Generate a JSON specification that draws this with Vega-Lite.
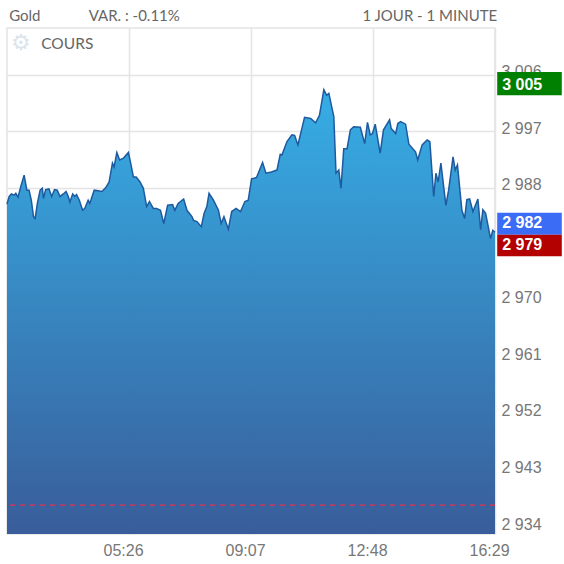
{
"$schema":"https://vega.github.io/schema/vega-lite/v6.json",
"width":488,"height":506,"autosize":"none",
"padding":{"left":7,"top":28,"right":69,"bottom":30},
"background":"white",
"view":{"stroke":"#e4e4e4","strokeWidth":1.5},
"datasets":{
"series":[
{"t":"01:45","v":2985.4},{"t":"01:49","v":2986.6},{"t":"01:53","v":2987.0},{"t":"01:58","v":2986.8},{"t":"02:01","v":2987.1},{"t":"02:05","v":2986.5},{"t":"02:10","v":2988.2},{"t":"02:16","v":2990.0},{"t":"02:21","v":2987.6},{"t":"02:25","v":2987.6},{"t":"02:29","v":2986.0},{"t":"02:33","v":2983.4},{"t":"02:36","v":2983.1},{"t":"02:40","v":2985.5},{"t":"02:45","v":2987.6},{"t":"02:49","v":2987.9},{"t":"02:51","v":2986.3},{"t":"02:55","v":2987.7},{"t":"03:01","v":2987.8},{"t":"03:06","v":2986.6},{"t":"03:11","v":2987.7},{"t":"03:16","v":2987.6},{"t":"03:21","v":2986.6},{"t":"03:27","v":2987.0},{"t":"03:32","v":2987.4},{"t":"03:36","v":2986.6},{"t":"03:39","v":2985.7},{"t":"03:44","v":2987.0},{"t":"03:48","v":2986.6},{"t":"03:51","v":2986.9},{"t":"03:56","v":2986.0},{"t":"04:02","v":2984.4},{"t":"04:06","v":2984.7},{"t":"04:12","v":2986.0},{"t":"04:15","v":2985.5},{"t":"04:23","v":2987.6},{"t":"04:30","v":2987.5},{"t":"04:37","v":2987.4},{"t":"04:44","v":2988.0},{"t":"04:50","v":2988.9},{"t":"04:56","v":2991.9},{"t":"04:59","v":2991.3},{"t":"05:04","v":2993.6},{"t":"05:09","v":2992.4},{"t":"05:16","v":2992.7},{"t":"05:25","v":2993.6},{"t":"05:29","v":2991.9},{"t":"05:34","v":2989.7},{"t":"05:39","v":2989.7},{"t":"05:46","v":2988.9},{"t":"05:52","v":2987.9},{"t":"05:58","v":2985.0},{"t":"06:03","v":2985.8},{"t":"06:10","v":2984.7},{"t":"06:16","v":2984.7},{"t":"06:23","v":2984.4},{"t":"06:29","v":2982.3},{"t":"06:36","v":2985.2},{"t":"06:45","v":2985.3},{"t":"06:49","v":2984.4},{"t":"06:55","v":2985.5},{"t":"07:05","v":2986.2},{"t":"07:11","v":2984.4},{"t":"07:20","v":2983.4},{"t":"07:23","v":2982.8},{"t":"07:29","v":2982.6},{"t":"07:37","v":2981.8},{"t":"07:42","v":2983.9},{"t":"07:47","v":2985.0},{"t":"07:51","v":2987.1},{"t":"07:59","v":2986.0},{"t":"08:08","v":2984.4},{"t":"08:13","v":2982.3},{"t":"08:18","v":2983.4},{"t":"08:26","v":2981.4},{"t":"08:32","v":2984.2},{"t":"08:40","v":2984.7},{"t":"08:48","v":2984.2},{"t":"08:56","v":2985.8},{"t":"09:02","v":2986.0},{"t":"09:08","v":2989.4},{"t":"09:17","v":2989.6},{"t":"09:28","v":2992.0},{"t":"09:34","v":2990.3},{"t":"09:44","v":2990.5},{"t":"09:54","v":2990.8},{"t":"10:00","v":2993.3},{"t":"10:03","v":2993.2},{"t":"10:12","v":2995.3},{"t":"10:21","v":2996.4},{"t":"10:26","v":2996.3},{"t":"10:32","v":2994.8},{"t":"10:44","v":2999.2},{"t":"10:55","v":2999.0},{"t":"11:04","v":2998.3},{"t":"11:11","v":2999.5},{"t":"11:19","v":3003.6},{"t":"11:24","v":3002.7},{"t":"11:28","v":3003.0},{"t":"11:37","v":2999.3},{"t":"11:41","v":2990.3},{"t":"11:46","v":2990.8},{"t":"11:50","v":2987.9},{"t":"11:55","v":2994.2},{"t":"12:01","v":2994.2},{"t":"12:07","v":2997.2},{"t":"12:13","v":2997.7},{"t":"12:25","v":2997.6},{"t":"12:33","v":2995.0},{"t":"12:38","v":2998.4},{"t":"12:43","v":2996.4},{"t":"12:47","v":2996.6},{"t":"12:52","v":2998.1},{"t":"13:01","v":2993.5},{"t":"13:07","v":2997.2},{"t":"13:18","v":2998.8},{"t":"13:21","v":2997.4},{"t":"13:29","v":2996.6},{"t":"13:33","v":2998.2},{"t":"13:38","v":2998.5},{"t":"13:47","v":2998.1},{"t":"13:53","v":2994.9},{"t":"14:05","v":2993.7},{"t":"14:09","v":2992.4},{"t":"14:17","v":2994.8},{"t":"14:26","v":2995.6},{"t":"14:31","v":2995.3},{"t":"14:38","v":2986.6},{"t":"14:42","v":2990.3},{"t":"14:46","v":2988.9},{"t":"14:51","v":2991.9},{"t":"15:00","v":2985.2},{"t":"15:05","v":2987.6},{"t":"15:13","v":2992.9},{"t":"15:17","v":2990.8},{"t":"15:21","v":2991.6},{"t":"15:29","v":2984.4},{"t":"15:34","v":2983.1},{"t":"15:38","v":2986.1},{"t":"15:43","v":2986.2},{"t":"15:49","v":2984.2},{"t":"15:58","v":2986.2},{"t":"16:03","v":2981.3},{"t":"16:07","v":2984.5},{"t":"16:12","v":2983.9},{"t":"16:21","v":2979.9},{"t":"16:25","v":2981.2},{"t":"16:29","v":2980.9}
],
"badges":[
{"label":"3 005","t0":"16:33","t1":"18:30","tl":"16:42","lo":3002.7,"hi":3006.4,"c":"#008000","mid":3004.4},
{"label":"2 982","t0":"16:33","t1":"18:30","tl":"16:42","lo":2980.5,"hi":2984.0,"c":"#3a6cf6","mid":2982.3},
{"label":"2 979","t0":"16:33","t1":"18:30","tl":"16:42","lo":2977.1,"hi":2980.5,"c":"#b30000","mid":2978.9}
],
"header":[
{"t":"01:49","v":3015.3,"text":"Gold","size":15},
{"t":"04:13","v":3015.3,"text":"VAR. : -0.11%","size":15},
{"t":"02:47","v":3010.8,"text":"COURS","size":15.5}
],
"headerRight":[{"t":"16:33","v":3015.3,"text":"1 JOUR - 1 MINUTE"}],
"gear":[{"t":"02:10","v":3011.0,"text":"⚙"}],
"support":[{"v":2937.5}]
},
"config":{"font":"Liberation Sans"},
"layer":[
{"data":{"name":"series","format":{"parse":{"t":"date:'%H:%M'"}}},
 "encoding":{
  "x":{"field":"t","type":"temporal","title":null,
   "scale":{"domain":[{"year":1900,"month":1,"date":1,"hours":1,"minutes":45},{"year":1900,"month":1,"date":1,"hours":16,"minutes":29}]},
   "axis":{"values":[{"year":1900,"month":1,"date":1,"hours":5,"minutes":26},{"year":1900,"month":1,"date":1,"hours":9,"minutes":7},{"year":1900,"month":1,"date":1,"hours":12,"minutes":48},{"year":1900,"month":1,"date":1,"hours":16,"minutes":29}],
    "format":"%H:%M","grid":true,"gridColor":"#e4e4e4","gridWidth":1.5,"ticks":false,"domain":false,"labelColor":"#777777","labelFontSize":16,"labelPadding":8,"labelOffset":-6,"labelOverlap":false,"labelBound":false,"labelFlush":false}},
  "y":{"field":"v","type":"quantitative","title":null,"scale":{"domain":[2932.9,3013.4],"zero":false,"nice":false},
   "axis":{"orient":"right","values":[2934,2943,2952,2961,2970,2979,2988,2997,3006],"labelExpr":"replace(format(datum.value,','),',',' ')","grid":true,"gridColor":"#e4e4e4","gridWidth":1.5,"ticks":false,"domain":false,"labelColor":"#777777","labelFontSize":16,"labelPadding":6,"labelOffset":-3,"labelOverlap":false,"labelBound":false,"labelFlush":false}}
 },
 "layer":[
  {"mark":{"type":"area","opacity":0.98,"fill":{"x1":0,"y1":0,"x2":0,"y2":1,"gradient":"linear","stops":[{"offset":0,"color":"#32ace5"},{"offset":1,"color":"#355a98"}]}},
   "encoding":{"y2":{"datum":2932.9}}},
  {"mark":{"type":"line","stroke":"#1d5a9f","strokeWidth":1.5}}
 ]},
{"data":{"name":"support"},
 "mark":{"type":"rule","stroke":"#e3304f","strokeWidth":1.2,"strokeDash":[5,5]},
 "encoding":{"y":{"field":"v","type":"quantitative"}}},
{"data":{"name":"badges","format":{"parse":{"t0":"date:'%H:%M'","t1":"date:'%H:%M'","tl":"date:'%H:%M'"}}},
 "layer":[
  {"mark":{"type":"rect"},
   "encoding":{"x":{"field":"t0","type":"temporal"},"x2":{"field":"t1"},"y":{"field":"lo","type":"quantitative"},"y2":{"field":"hi"},"fill":{"field":"c","type":"nominal","scale":null}}},
  {"mark":{"type":"text","align":"left","baseline":"middle","color":"white","fontWeight":"bold","fontSize":16},
   "encoding":{"x":{"field":"tl","type":"temporal"},"y":{"field":"mid","type":"quantitative"},"text":{"field":"label"}}}
 ]},
{"data":{"name":"header","format":{"parse":{"t":"date:'%H:%M'"}}},
 "mark":{"type":"text","align":"left","baseline":"middle","color":"#666666","font":"Lato"},
 "encoding":{"x":{"field":"t","type":"temporal"},"y":{"field":"v","type":"quantitative"},"text":{"field":"text"},"size":{"field":"size","type":"quantitative","scale":null}}},
{"data":{"name":"headerRight","format":{"parse":{"t":"date:'%H:%M'"}}},
 "mark":{"type":"text","align":"right","baseline":"middle","color":"#666666","font":"Lato","fontSize":15},
 "encoding":{"x":{"field":"t","type":"temporal"},"y":{"field":"v","type":"quantitative"},"text":{"field":"text"}}},
{"data":{"name":"gear","format":{"parse":{"t":"date:'%H:%M'"}}},
 "mark":{"type":"text","align":"center","baseline":"middle","color":"#dbe4ec","font":"DejaVu Sans","fontSize":22},
 "encoding":{"x":{"field":"t","type":"temporal"},"y":{"field":"v","type":"quantitative"},"text":{"field":"text"}}}
]
}
